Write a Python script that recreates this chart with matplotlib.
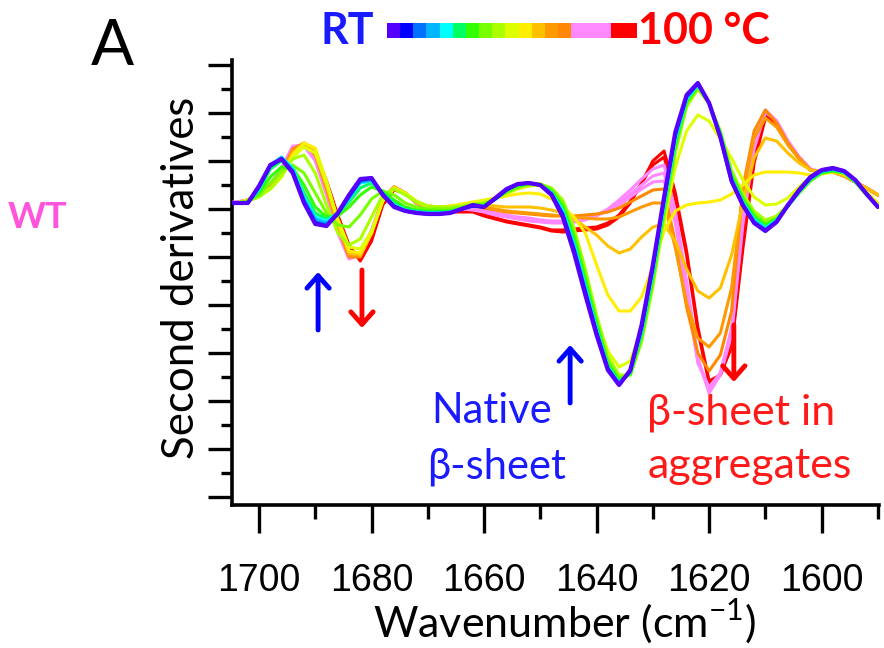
import numpy as np
import matplotlib
matplotlib.use("Agg")
import matplotlib.pyplot as plt
from matplotlib import font_manager
from matplotlib.ticker import MultipleLocator
from matplotlib.colors import ListedColormap

plt.rcParams['font.family'] = ['Lato', 'DejaVu Sans']
plt.rcParams['mathtext.fontset'] = 'custom'
plt.rcParams['mathtext.rm'] = 'Lato'

# wavenumber grid of the spectra (cm-1), 2 cm-1 steps
wavenumber = np.arange(1706, 1589, -2)

# second derivative spectra (a.u.), RT -> 100 C
spec_01 = [0, 0, 0, 17, 38, 44, 30, 0, -21, -23,
           -10, 8, 24, 25, 8, -4, -8, -10, -11, -11,
           -10, -6, -2, -4, 5, 14, 19, 20, 18, 8,
           -14, -50, -92, -132, -167, -182, -167, -122, -62, 6,
           71, 108, 120, 100, 66, 22, -2, -20, -28, -19,
           -2, 13, 26, 33, 35, 32, 23, 9, -4]
spec_02 = [0, 0, 0, 16, 37, 44, 31, 1, -20, -23,
           -11, 7, 23, 25, 9, -3, -8, -10, -11, -11,
           -10, -6, -3, -4, 4, 13, 19, 20, 18, 9,
           -12, -47, -89, -130, -166, -182, -168, -124, -64, 4,
           69, 107, 120, 100, 65, 21, -3, -20, -28, -19,
           -3, 12, 25, 33, 35, 32, 23, 9, -4]
spec_03 = [0, 0, 0, 16, 37, 45, 32, 2, -19, -22,
           -11, 6, 22, 24, 9, -3, -8, -10, -11, -11,
           -10, -6, -3, -4, 4, 13, 19, 20, 18, 9,
           -11, -46, -88, -129, -165, -181, -168, -125, -65, 3,
           68, 106, 119, 100, 66, 22, -2, -19, -27, -18,
           -3, 12, 25, 32, 34, 32, 23, 9, -4]
spec_04 = [0, 0, 0, 15, 37, 45, 33, 4, -16, -20,
           -11, 5, 21, 23, 9, -3, -8, -9, -10, -10,
           -9, -6, -3, -4, 4, 13, 19, 20, 18, 9,
           -10, -44, -86, -128, -165, -181, -169, -127, -67, 1,
           66, 105, 119, 100, 67, 23, -1, -18, -26, -18,
           -3, 12, 24, 32, 34, 31, 22, 9, -3]
spec_05 = [0, 0, 0, 14, 38, 46, 35, 6, -14, -18,
           -10, 4, 20, 22, 9, -2, -7, -9, -10, -10,
           -9, -6, -3, -3, 4, 13, 19, 20, 18, 10,
           -8, -42, -84, -126, -164, -180, -169, -128, -69, -1,
           64, 104, 118, 100, 68, 24, 0, -17, -25, -17,
           -3, 11, 24, 32, 34, 31, 22, 9, -3]
spec_06 = [0, 0, 0, 12, 34, 42, 35, 10, -10, -16,
           -11, 1, 15, 20, 10, 0, -6, -8, -9, -9,
           -9, -6, -3, -3, 4, 13, 18, 20, 18, 11,
           -6, -39, -81, -124, -163, -179, -170, -130, -71, -3,
           62, 103, 118, 100, 69, 26, 2, -15, -24, -17,
           -3, 11, 24, 31, 33, 31, 22, 9, -3]
spec_07 = [0, 0, 1, 10, 26, 36, 35, 18, -4, -14,
           -13, -4, 8, 16, 12, 3, -4, -7, -8, -8,
           -8, -5, -2, -2, 4, 12, 17, 19, 18, 12,
           -3, -34, -76, -120, -160, -177, -171, -133, -75, -6,
           58, 101, 117, 100, 70, 28, 4, -13, -22, -16,
           -3, 11, 23, 30, 32, 30, 21, 8, -3]
spec_08 = [0, 0, 2, 8, 20, 32, 38, 30, 10, -10,
           -22, -24, -12, 4, 12, 8, 0, -4, -6, -6,
           -6, -4, -2, -1, 4, 11, 16, 19, 19, 14,
           0, -30, -72, -117, -157, -175, -172, -136, -79, -10,
           54, 99, 116, 100, 71, 30, 6, -11, -20, -15,
           -3, 10, 22, 30, 32, 30, 21, 8, -3]
spec_09 = [0, 0, 2, 6, 14, 28, 44, 48, 30, -2,
           -30, -42, -36, -14, 8, 14, 8, 1, -3, -4,
           -4, -3, -1, 0, 4, 10, 15, 18, 19, 15,
           3, -25, -66, -112, -153, -172, -172, -139, -84, -14,
           50, 96, 114, 99, 72, 33, 9, -8, -17, -13,
           -2, 10, 22, 30, 32, 30, 21, 8, -3]
spec_10 = [0, 0, 3, 8, 14, 26, 46, 56, 50, 20,
           -16, -44, -46, -28, 2, 14, 10, 2, -3, -4,
           -4, -2, 0, 2, 5, 9, 14, 17, 18, 14,
           -2, -32, -72, -115, -148, -164, -158, -126, -76, -20,
           36, 72, 88, 82, 64, 45, 23, 6, -2, -1,
           5, 16, 26, 31, 34, 31, 23, 10, -3]
spec_11 = [0, 0, 3, 8, 14, 26, 48, 60, 55, 22,
           -18, -48, -50, -30, 2, 15, 10, 1, -4, -5,
           -3, -1, 1, 3, 5, 7, 9, 10, 9, 4,
           -4, -14, -30, -62, -92, -108, -108, -94, -64, -28,
           -8, -2, 0, 1, 3, 9, 18, 28, 31, 31,
           31, 30, 28, 29, 31, 29, 22, 11, 0]
spec_12 = [0, 0, 3, 8, 15, 27, 50, 60, 52, 18,
           -20, -50, -52, -30, 3, 16, 10, 1, -3, -4,
           -3, -2, 0, -2, -3, -4, -4, -4, -5, -7,
           -10, -16, -24, -32, -43, -50, -46, -34, -24, -21,
           -38, -66, -88, -95, -85, -52, 0, 45, 65, 62,
           50, 40, 33, 31, 31, 27, 21, 15, 8]
spec_13 = [0, 0, 3, 8, 16, 28, 52, 60, 50, 16,
           -22, -52, -53, -30, 4, 16, 10, 1, -3, -4,
           -4, -3, -2, -4, -6, -8, -9, -10, -11, -12,
           -13, -14, -15, -16, -16, -14, -9, -4, 0, 0,
           -45, -100, -135, -144, -130, -85, 10, 65, 85, 76,
           58, 44, 33, 31, 31, 27, 21, 15, 8]
spec_14 = [0, 0, 3, 9, 17, 30, 54, 60, 48, 14,
           -24, -54, -54, -30, 4, 16, 10, 0, -4, -5,
           -5, -4, -3, -5, -7, -9, -10, -11, -12, -13,
           -13, -13, -12, -11, -9, -5, 1, 7, 13, 14,
           -40, -104, -150, -168, -152, -108, 15, 72, 93, 80,
           60, 45, 33, 31, 31, 27, 21, 15, 8]
spec_15 = [0, 1, 3, 9, 18, 34, 56, 58, 44, 10,
           -28, -55, -52, -28, 4, 16, 10, 0, -4, -5,
           -5, -5, -5, -7, -10, -12, -14, -15, -17, -18,
           -18, -17, -15, -12, -8, -2, 6, 14, 21, 22,
           -20, -90, -160, -184, -170, -125, -10, 62, 93, 82,
           62, 46, 34, 31, 31, 27, 21, 15, 8]
spec_16 = [0, 1, 3, 9, 18, 34, 56, 58, 44, 10,
           -28, -55, -52, -28, 4, 16, 10, 0, -4, -5,
           -5, -5, -6, -8, -11, -13, -15, -16, -18, -19,
           -19, -18, -16, -12, -7, 0, 9, 18, 27, 30,
           -14, -84, -158, -187, -170, -128, -16, 58, 92, 82,
           62, 46, 34, 31, 31, 27, 21, 15, 8]
spec_17 = [0, 1, 3, 9, 19, 35, 57, 57, 42, 8,
           -30, -56, -52, -27, 4, 16, 10, 0, -4, -5,
           -6, -6, -7, -9, -12, -14, -16, -18, -19, -20,
           -20, -19, -17, -13, -6, 3, 13, 24, 34, 38,
           -8, -78, -155, -190, -172, -132, -22, 54, 91, 82,
           62, 46, 34, 31, 31, 27, 21, 15, 8]
spec_18 = [0, 0, 2, 7, 15, 28, 50, 58, 50, 20,
           -14, -44, -56, -36, 0, 14, 10, 0, -5, -7,
           -8, -8, -8, -12, -15, -18, -20, -22, -24, -27,
           -27, -26, -25, -24, -20, -12, 2, 20, 38, 46,
           4, -52, -128, -180, -172, -140, -40, 45, 87, 80,
           60, 45, 33, 31, 31, 27, 21, 15, 8]
spec_19 = [0, 0, 2, 7, 15, 28, 50, 58, 50, 22,
           -12, -42, -58, -38, -2, 13, 10, 0, -5, -8,
           -9, -9, -9, -13, -16, -19, -21, -23, -25, -28,
           -29, -28, -27, -26, -22, -14, 0, 20, 42, 52,
           10, -48, -124, -178, -172, -144, -46, 40, 85, 80,
           60, 45, 33, 31, 31, 27, 21, 15, 8]

colors = ['#5500ff', '#0000ff', '#0070ff', '#00b4ff', '#00ffff', '#00ff60',
          '#33ff00', '#77ff00', '#aaff00', '#ddff00', '#ffee00', '#ffc000',
          '#ff9900', '#ff8800', '#ff88ff', '#ff88ff', '#ff88ff', '#ff0000',
          '#ff0000']

spectra = [spec_01, spec_02, spec_03, spec_04, spec_05, spec_06, spec_07,
           spec_08, spec_09, spec_10, spec_11, spec_12, spec_13, spec_14,
           spec_15, spec_16, spec_17, spec_18, spec_19]

# narrow font for the tick numbers if there is one
try:
    font_manager.findfont('Liberation Sans Narrow', fallback_to_default=False)
    tick_family, tick_size = 'Liberation Sans Narrow', 33
except ValueError:
    tick_family, tick_size = 'Liberation Sans', 27

W, H = 884, 648
fig = plt.figure(figsize=(W / 100, H / 100), dpi=100)
ax = fig.add_axes([232 / W, 1 - 505 / H, (879 - 232) / W, (505 - 60) / H])

# hot curves first, so RT ends on top
for i in range(len(spectra) - 1, -1, -1):
    lw = 3.0 if i == 0 else 2.2
    ax.plot(wavenumber, spectra[i], color=colors[i], lw=lw, zorder=3 + (len(spectra) - i),
            solid_joinstyle='round', solid_capstyle='round')

ax.set_xlim(1704.8, 1589.8)
ax.set_ylim(-302, 143)

for s in ['top', 'right']:
    ax.spines[s].set_visible(False)
for s in ['left', 'bottom']:
    ax.spines[s].set_linewidth(2.6)

ax.xaxis.set_major_locator(MultipleLocator(20))
ax.xaxis.set_minor_locator(MultipleLocator(10))
ax.yaxis.set_major_locator(MultipleLocator(48, offset=-6))
ax.yaxis.set_minor_locator(MultipleLocator(24, offset=-6))
ax.tick_params(axis='x', which='major', direction='out', length=20, width=2.4, pad=22,
               labelsize=tick_size, labelfontfamily=tick_family)
ax.tick_params(axis='x', which='minor', direction='out', length=10, width=2.4)
ax.tick_params(axis='y', which='major', direction='out', length=17, width=2.4, labelleft=False)
ax.tick_params(axis='y', which='minor', direction='out', length=8, width=2.4)

# arrows
arrow_kw = dict(arrowstyle='->,head_length=0.45,head_width=0.4', lw=3.5,
                shrinkA=0, shrinkB=0, mutation_scale=20)
ax.annotate('', xy=(1689.5, -69), xytext=(1689.5, -127), arrowprops=dict(color='#0000ff', **arrow_kw), zorder=30)
ax.annotate('', xy=(1681.7, -125), xytext=(1681.7, -67), arrowprops=dict(color='#ff0000', **arrow_kw), zorder=30)
ax.annotate('', xy=(1644.7, -142), xytext=(1644.7, -200), arrowprops=dict(color='#0000ff', **arrow_kw), zorder=30)
ax.annotate('', xy=(1615.6, -179), xytext=(1615.6, -122), arrowprops=dict(color='#ff0000', **arrow_kw), zorder=30)

ax.text(1658.6, -220, 'Native', color='#1a1aff', fontsize=30, ha='center', va='baseline')
ax.text(1657.7, -275, 'β-sheet', color='#1a1aff', fontsize=30, ha='center', va='baseline')
ax.text(1614.3, -222, 'β-sheet in', color='#ff1a1a', fontsize=31, ha='center', va='baseline')
ax.text(1612.7, -275, 'aggregates', color='#ff1a1a', fontsize=31, ha='center', va='baseline')

# figure texts
fig.text(112 / W, 1 - 65 / H, 'A', fontsize=46, ha='center', va='baseline')
fig.text(374 / W, 1 - 44 / H, 'RT', fontsize=31, fontweight='bold', color='#1a1aff', ha='right', va='baseline')
fig.text(638 / W, 1 - 44 / H, '100 °C', fontsize=31, fontweight='bold', color='#ff0000', ha='left', va='baseline')
fig.text(37 / W, 1 - 228 / H, 'WT', fontsize=26, fontweight='bold', color='#ff55dd', ha='center', va='baseline')
fig.text(182 / W, 1 - 278 / H, 'Second derivatives', fontsize=31.5, rotation=90, ha='center', va='center')
fig.text(565 / W, 1 - 636 / H, r'Wavenumber (cm$^{\mathrm{-1}}$)', fontsize=31, ha='center', va='baseline')

# temperature colour bar
cax = fig.add_axes([387 / W, 1 - 38 / H, 250 / W, 15 / H])
cax.imshow(np.arange(len(colors))[None, :], cmap=ListedColormap(colors), aspect='auto')
cax.axis('off')

fig.savefig('out.png', dpi=100)
